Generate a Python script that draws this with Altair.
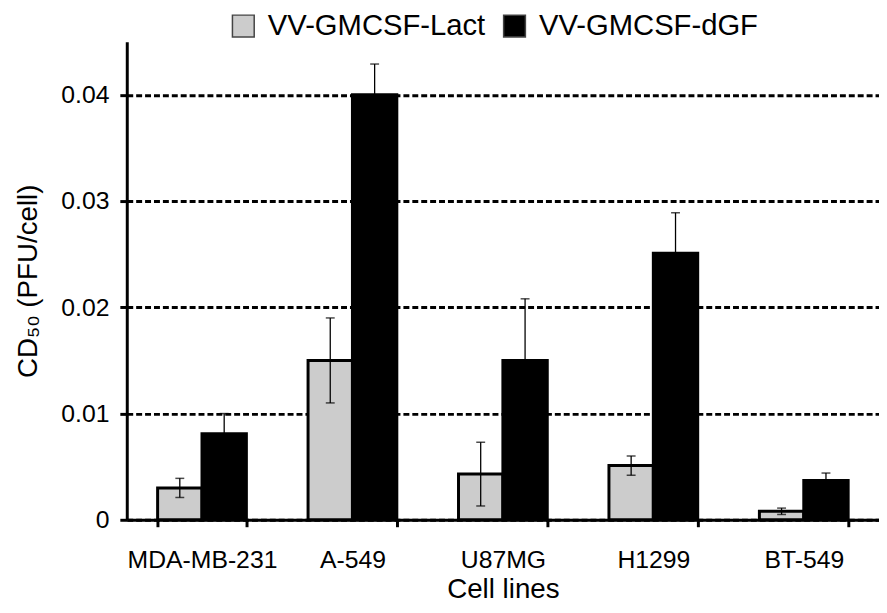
import altair as alt
import pandas as pd

cells = ["MDA-MB-231", "A-549", "U87MG", "H1299", "BT-549"]
series = ["VV-GMCSF-Lact", "VV-GMCSF-dGF"]
lact = [0.0030, 0.0150, 0.0043, 0.0051, 0.0008]
lact_err = [0.0009, 0.0040, 0.0030, 0.0009, 0.0003]
dgf = [0.0081, 0.0400, 0.0150, 0.0251, 0.0037]
dgf_err = [0.0019, 0.0029, 0.0058, 0.0038, 0.0007]
y_ticks = [0, 0.01, 0.02, 0.03, 0.04]

rows = []
for i, c in enumerate(cells):
    for s, vals, errs in ((series[0], lact, lact_err), (series[1], dgf, dgf_err)):
        v, e = vals[i], errs[i]
        rows.append({"cell": c, "series": s, "value": v, "lo": v - e, "hi": v + e})
df = pd.DataFrame(rows)

FONT = "Liberation Sans"

x_enc = alt.X(
    "cell:N",
    sort=cells,
    title="Cell lines",
    scale=alt.Scale(paddingInner=0.41, paddingOuter=0.205),
    axis=alt.Axis(
        tickBand="extent",
        labelAngle=0,
        labelFontSize=25,
        labelPadding=21,
        titleFontSize=28,
        titlePadding=4,
        grid=False,
        domainColor="black",
        domainWidth=3,
        tickColor="black",
        tickWidth=3,
        tickSize=7,
    ),
)
xo = alt.XOffset("series:N", sort=series)

y_scale = alt.Scale(domain=[0, 0.045], nice=False)

bars = alt.Chart(df).mark_bar(stroke="black", strokeWidth=3).encode(
    x=x_enc,
    xOffset=xo,
    y=alt.Y(
        "value:Q",
        scale=y_scale,
        title="CD₅₀ (PFU/cell)",
        axis=alt.Axis(
            values=y_ticks,
            labelExpr="datum.value == 0 ? '0' : format(datum.value, '.2f')",
            labelFontSize=25,
            labelPadding=11,
            titleFontSize=28,
            titlePadding=19,
            grid=True,
            gridColor="black",
            gridDash=[6, 3],
            gridWidth=3,
            gridOpacity=1,
            domainColor="black",
            domainWidth=3,
            tickColor="black",
            tickWidth=3,
            tickSize=7,
        ),
    ),
    color=alt.Color(
        "series:N",
        sort=series,
        scale=alt.Scale(domain=series, range=["#cccccc", "#000000"]),
        legend=alt.Legend(
            title=None,
            orient="none",
            legendX=103,
            legendY=-31,
            direction="horizontal",
            symbolType="square",
            symbolSize=484,
            symbolStrokeColor="#444444",
            symbolStrokeWidth=1.5,
            labelFontSize=29.5,
            labelLimit=0,
            labelOffset=10,
            columnPadding=14,
        ),
    ),
)

x_plain = alt.X("cell:N", sort=cells)

rules = alt.Chart(df).mark_rule(color="black", strokeWidth=1.3).encode(
    x=x_plain, xOffset=xo, y=alt.Y("lo:Q"), y2="hi:Q"
)
caps_hi = alt.Chart(df).mark_tick(color="black", size=9, thickness=1.5).encode(
    x=x_plain, xOffset=xo, y=alt.Y("hi:Q")
)
caps_lo = alt.Chart(df).mark_tick(color="black", size=9, thickness=1.5).encode(
    x=x_plain, xOffset=xo, y=alt.Y("lo:Q")
)

chart = (
    alt.layer(bars, rules, caps_hi, caps_lo)
    .properties(
        width=760,
        height=483,
        autosize=alt.AutoSizeParams(type="none"),
        padding={"left": 120, "top": 31, "right": 0, "bottom": 81},
    )
    .configure(font=FONT)
    .configure_view(stroke=None)
    .configure_axis(labelColor="black", titleColor="black", titleFontWeight="normal")
    .configure_legend(labelColor="black")
)

chart.save("out.html", embed_options={"renderer": "svg", "actions": False})
